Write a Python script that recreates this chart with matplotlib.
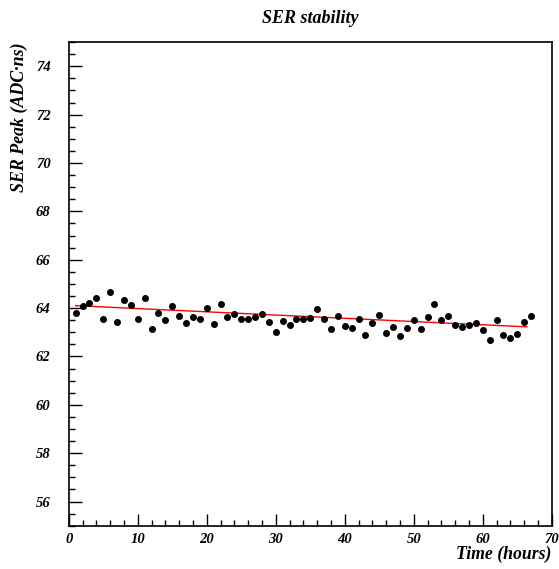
import matplotlib
matplotlib.use('Agg')
import matplotlib.pyplot as plt
import numpy as np
from matplotlib.ticker import MultipleLocator

# SER peak per hour
hours = list(range(1, 68))
ser_peak = [63.81, 64.07, 64.22, 64.40, 63.53, 64.65, 63.42, 64.32, 64.11, 63.57,
            64.43, 63.13, 63.79, 63.50, 64.08, 63.67, 63.37, 63.64, 63.57, 64.00,
            63.36, 64.15, 63.64, 63.75, 63.57, 63.57, 63.62, 63.77, 63.44, 63.02,
            63.46, 63.29, 63.55, 63.55, 63.60, 63.95, 63.55, 63.12, 63.69, 63.26,
            63.19, 63.56, 62.88, 63.38, 63.73, 62.98, 63.20, 62.84, 63.19, 63.49,
            63.12, 63.63, 64.17, 63.52, 63.67, 63.30, 63.23, 63.30, 63.38, 63.09,
            62.69, 63.49, 62.87, 62.78, 62.91, 63.41, 63.67]

# linear fit line
fit_range = [1, 66.4]
fit_intercept = 64.115
fit_slope = -0.0134

font = {'family': 'Liberation Serif', 'weight': 'bold', 'style': 'italic'}

fig = plt.figure(figsize=(5.59, 5.69), dpi=100)
ax = fig.add_axes([0.123, 0.076, 0.864, 0.85])

ax.plot(hours, ser_peak, 'o', color='black', markersize=4.0, zorder=3)
fx = np.array(fit_range)
ax.plot(fx, fit_intercept + fit_slope * fx, color='red', linewidth=1.0, zorder=2)

ax.set_xlim(0, 70)
ax.set_ylim(55, 75)
ax.xaxis.set_major_locator(MultipleLocator(10))
ax.xaxis.set_minor_locator(MultipleLocator(2))
ax.yaxis.set_minor_locator(MultipleLocator(0.5))
ax.set_yticks(range(56, 75, 2))
ax.tick_params(which='both', direction='in', top=False, right=False, width=1.0)
ax.tick_params(which='major', length=9)
ax.tick_params(which='minor', length=4.5)
ax.tick_params(axis='y', which='major', pad=13)
ax.tick_params(axis='x', which='major', pad=5)
for lab in ax.get_xticklabels() + ax.get_yticklabels():
    lab.set_fontproperties(matplotlib.font_manager.FontProperties(size=10.5, **font))
for sp in ax.spines.values():
    sp.set_linewidth(1.2)

fig.text(0.555, 0.968, 'SER stability', ha='center', va='center', fontsize=13, **font)
fig.text(0.986, 0.025, 'Time (hours)', ha='right', va='center', fontsize=12.8, **font)
fig.text(0.035, 0.926, 'SER Peak (ADC\u00b7ns)', ha='center', va='top', rotation=90,
         fontsize=12.9, **font)

fig.savefig('out.png', dpi=100)
